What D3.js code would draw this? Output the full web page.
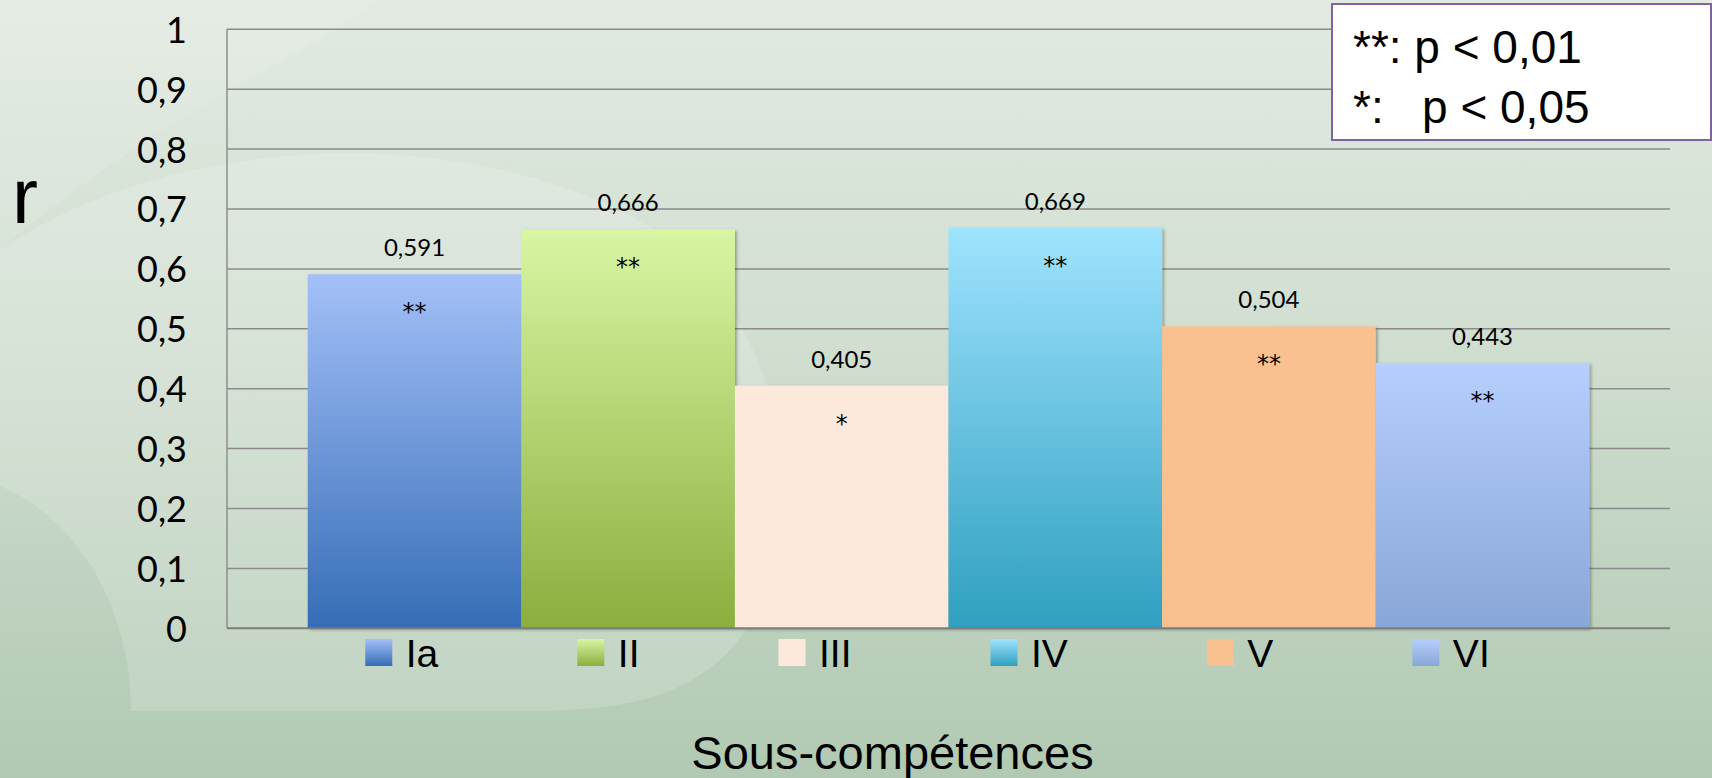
<!DOCTYPE html>
<html><head><meta charset="utf-8">
<script src="https://cdn.jsdelivr.net/npm/d3@7"></script>
<style>html,body{margin:0;padding:0;overflow:hidden;background:#cfdccf}</style>
</head><body>
<svg id="chart" width="1712" height="778" xmlns="http://www.w3.org/2000/svg"></svg>
<script>
// ---- data ----
const categories = ["Ia", "II", "III", "IV", "V", "VI"];
const values = [0.591, 0.666, 0.405, 0.669, 0.504, 0.443];
const valueLabels = ["0,591", "0,666", "0,405", "0,669", "0,504", "0,443"];
const significance = ["**", "**", "*", "**", "**", "**"];
const tickValues = [0, 0.1, 0.2, 0.3, 0.4, 0.5, 0.6, 0.7, 0.8, 0.9, 1];
const tickLabels = ["0", "0,1", "0,2", "0,3", "0,4", "0,5", "0,6", "0,7", "0,8", "0,9", "1"];
const yTitle = "r";
const xTitle = "Sous-compétences";
const noteLines = ["**: p < 0,01", "*:   p < 0,05"];

// ---- styles ----
const gradTop = ["#a4c0f8", "#d8f6a3", "#fde9dc", "#9fe3fe", "#f9c090", "#b6cffd"];
const gradBottom = ["#356db6", "#8bae3e", "#fde9dc", "#2f9fc0", "#f9c090", "#88a6d7"];

const W = 1712, H = 778;
const svg = d3.select("#chart");
const defs = svg.append("defs");

// background
const bg = defs.append("linearGradient").attr("id", "bg").attr("x1", 0).attr("y1", 0).attr("x2", 0).attr("y2", 1);
bg.append("stop").attr("offset", "0%").attr("stop-color", "#e2eae2");
bg.append("stop").attr("offset", "45%").attr("stop-color", "#d0ded0");
bg.append("stop").attr("offset", "100%").attr("stop-color", "#b1c9b2");
svg.append("rect").attr("width", W).attr("height", H).attr("fill", "url(#bg)");
// decorative lighter swoosh
svg.append("path")
  .attr("d", "M0,250 C160,140 430,120 620,210 C800,300 830,560 720,660 C670,705 600,711 520,711 L131,711 C131,610 80,520 0,486 Z")
  .attr("fill", "#ffffff").attr("opacity", 0.16);
svg.append("path")
  .attr("d", "M0,0 L380,0 C300,60 150,120 0,250 Z")
  .attr("fill", "#ffffff").attr("opacity", 0.1);

// shadow filter
const f = defs.append("filter").attr("id", "shadow").attr("x", "-5%").attr("y", "-5%").attr("width", "115%").attr("height", "115%");
f.append("feDropShadow").attr("dx", 2).attr("dy", 1.5).attr("stdDeviation", 1.5).attr("flood-color", "#000").attr("flood-opacity", 0.3);

categories.forEach((c, i) => {
  const g = defs.append("linearGradient").attr("id", "g" + i).attr("x1", 0).attr("y1", 0).attr("x2", 0).attr("y2", 1);
  g.append("stop").attr("offset", "0%").attr("stop-color", gradTop[i]);
  g.append("stop").attr("offset", "100%").attr("stop-color", gradBottom[i]);
});

// scales
const plot = {left: 227, right: 1670, top: 29.3, bottom: 628.3};
const y = d3.scaleLinear().domain([0, 1]).range([plot.bottom, plot.top]);
const x = d3.scaleBand().domain(categories).range([plot.left, plot.right]).paddingInner(0).paddingOuter(0.378);

// gridlines
svg.append("g").selectAll("line").data(tickValues.filter(v => v > 0)).join("line")
  .attr("x1", plot.left).attr("x2", plot.right)
  .attr("y1", d => y(d)).attr("y2", d => y(d))
  .attr("stroke", "#8a8a8a").attr("stroke-width", 1.5);

// y axis line
svg.append("line").attr("x1", plot.left).attr("x2", plot.left).attr("y1", y(1)).attr("y2", y(0))
  .attr("stroke", "#8e8e8e").attr("stroke-width", 1.5);

// y axis labels via d3 axis
const yAxis = d3.axisLeft(y).tickValues(tickValues).tickFormat((d, i) => tickLabels[i]).tickSize(0).tickPadding(40);
const ya = svg.append("g").attr("transform", `translate(${plot.left},0)`).call(yAxis);
ya.select(".domain").remove();
ya.selectAll("text").attr("font-family", "Lato, 'Open Sans', sans-serif").attr("font-size", 36).attr("fill", "#000").attr("dy", "0.36em");

// bars
svg.append("g").selectAll("rect").data(values).join("rect")
  .attr("x", (d, i) => x(categories[i]))
  .attr("width", x.bandwidth())
  .attr("y", d => y(d))
  .attr("height", d => y(0) - y(d))
  .attr("fill", (d, i) => `url(#g${i})`)
  .attr("filter", "url(#shadow)");

// x axis baseline
svg.append("line").attr("x1", plot.left).attr("x2", plot.right).attr("y1", y(0)).attr("y2", y(0))
  .attr("stroke", "#7d7d7d").attr("stroke-width", 2);

// value labels
svg.append("g").selectAll("text").data(values).join("text")
  .attr("x", (d, i) => x(categories[i]) + x.bandwidth() / 2)
  .attr("y", d => y(d) - 18)
  .attr("text-anchor", "middle")
  .attr("font-family", "Lato, 'Open Sans', sans-serif").attr("font-size", 24).attr("fill", "#000")
  .text((d, i) => valueLabels[i]);

// significance stars
svg.append("g").selectAll("text").data(values).join("text")
  .attr("x", (d, i) => x(categories[i]) + x.bandwidth() / 2)
  .attr("y", d => y(d) + 46)
  .attr("text-anchor", "middle")
  .attr("font-family", "'DejaVu Sans', sans-serif").attr("font-size", 24).attr("fill", "#000")
  .text((d, i) => significance[i]);

// y title
svg.append("text").attr("x", 12).attr("y", 223)
  .attr("font-family", "'Liberation Sans', Arial, sans-serif").attr("font-size", 78).attr("fill", "#000")
  .text(yTitle);

// x title
svg.append("text").attr("x", 892.5).attr("y", 769).attr("text-anchor", "middle")
  .attr("font-family", "'Liberation Sans', Arial, sans-serif").attr("font-size", 47).attr("fill", "#000")
  .text(xTitle);

// legend
const leg = svg.append("g");
const items = leg.selectAll("g").data(categories).join("g");
items.append("rect").attr("width", 27).attr("height", 27).attr("y", 639).attr("fill", (d, i) => `url(#g${i})`);
items.append("text").attr("x", 40.5).attr("y", 666.5)
  .attr("font-family", "'Liberation Sans', Arial, sans-serif").attr("font-size", 39).attr("fill", "#000")
  .text(d => d);
const widths = items.nodes().map(n => 40.5 + n.querySelector("text").getComputedTextLength());
const gap = 139;
const total = d3.sum(widths) + gap * (widths.length - 1);
let cx = 927.5 - total / 2;
items.each(function (d, i) {
  d3.select(this).attr("transform", `translate(${cx},0)`);
  cx += widths[i] + gap;
});

// significance note box
svg.append("rect").attr("x", 1332).attr("y", 4).attr("width", 379).attr("height", 136)
  .attr("fill", "#ffffff").attr("stroke", "#7f63a1").attr("stroke-width", 2);
svg.append("g").selectAll("text").data(noteLines).join("text")
  .attr("x", 1353).attr("y", (d, i) => 63 + i * 60)
  .attr("font-family", "'Liberation Sans', Arial, sans-serif").attr("font-size", 46).attr("fill", "#000")
  .style("white-space", "pre")
  .text(d => d);
</script>
</body></html>
